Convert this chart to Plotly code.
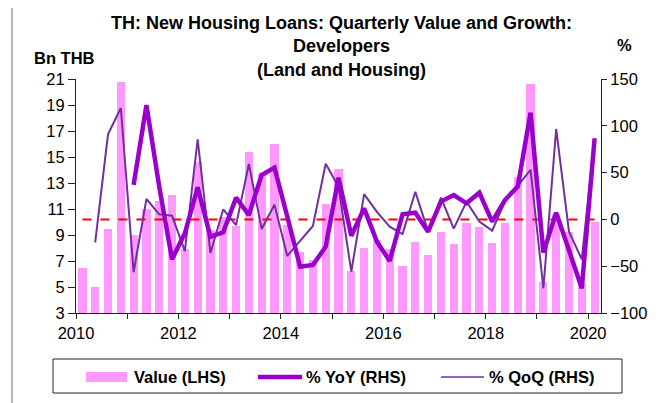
import plotly.graph_objects as go

# Quarterly data, 2010Q1 - 2020Q1
quarters = [f"{y}Q{q}" for y in range(2010, 2021) for q in range(1, 5)][:41]

value_bn = [6.5, 5.0, 9.5, 20.8, 9.0, 11.0, 11.6, 12.1, 7.9, 14.6, 9.4, 10.4,
            9.7, 15.4, 13.8, 16.0, 9.8, 7.7, 7.1, 11.4, 14.1, 6.2, 8.0, 8.6,
            7.9, 6.6, 8.5, 7.5, 9.2, 8.3, 9.9, 9.6, 8.4, 9.9, 13.5, 20.6,
            5.4, 10.6, 9.2, 5.3, 10.0]

yoy_pct = [None, None, None, None,
           36.8, 122, 35, -42.6, -14.9, 34.3, -18.5, -13.8, 23.2, 4.7, 47.4, 55.3,
           3, -50.5, -48.7, -29.2, 44.6, -17.4, 11.8, -23.8, -44.4, 5.4, 7.2, -13.1,
           19, 26, 17.2, 28.5, -2.4, 20.7, 35, 114, -35.5, 7.2, -33, -73.6, 86.6]

qoq_pct = [None,
           -24.5, 90.9, 119, -56.5, 21.8, 5.4, 4, -33.8, 85.5, -35.9, 10.8, -6,
           59.2, -10.3, 15.7, -39, -23, -7, 59.5, 35, -55.9, 27, 8, -7.8, -15.6,
           29.6, -13.1, 23.2, -9.9, 19, -2.4, -12, 19, 35.7, 52.8, -73.6, 96.6,
           -13.1, -42.6, 86.6]

year_ticks = list(range(2010, 2021))
year_labels = [str(y) if y % 2 == 0 else "" for y in year_ticks]

# quarter -> decimal year at the middle of the quarter
x_q = [int(q[:4]) + (int(q[-1]) - 0.5) / 4 for q in quarters]

FONT = "Liberation Sans, Arial, sans-serif"
PAGE_OFFSET = 8  # the html body margin pushes the figure 8px right/down
W, H = 667 - PAGE_OFFSET, 403 - PAGE_OFFSET
L, R, T, B = 76 - PAGE_OFFSET, 66, 79 - PAGE_OFFSET, 90
PW, PH = W - L - R, H - T - B


# helpers to place things by window pixel position
def px(x):
    return (x - 76) / PW


def py(y):
    return (313 - y) / PH


fig = go.Figure()
fig.add_trace(go.Bar(x=x_q, y=value_bn, width=0.16, marker=dict(color="#FF99FF", line=dict(width=0)),
                     name="Value (LHS)"))
fig.add_trace(go.Scatter(x=[x_q[0], x_q[-1]], y=[0, 0], yaxis="y2", mode="lines",
                         line=dict(color="#FF0000", width=2, dash="dash"), hoverinfo="skip"))
fig.add_trace(go.Scatter(x=x_q, y=qoq_pct, yaxis="y2", mode="lines",
                         line=dict(color="#7030A0", width=2), name="% QoQ (RHS)"))
fig.add_trace(go.Scatter(x=x_q, y=yoy_pct, yaxis="y2", mode="lines",
                         line=dict(color="#9900CC", width=4.5), name="% YoY (RHS)"))

shapes = [
    # outer chart frame
    dict(type="rect", xref="paper", yref="paper", x0=px(12), x1=px(660), y0=py(420), y1=py(7),
         line=dict(color="#A0A0A0", width=1.5)),
    # legend box
    dict(type="rect", xref="paper", yref="paper", x0=px(53), x1=px(622), y0=py(393), y1=py(359),
         line=dict(color="#222222", width=1)),
    dict(type="rect", xref="paper", yref="paper", x0=px(86), x1=px(127), y0=py(382), y1=py(372),
         fillcolor="#FF99FF", line=dict(width=0)),
    dict(type="line", xref="paper", yref="paper", x0=px(258), x1=px(302), y0=py(377), y1=py(377),
         line=dict(color="#9900CC", width=4.5)),
    dict(type="line", xref="paper", yref="paper", x0=px(441), x1=px(484), y0=py(377), y1=py(377),
         line=dict(color="#7030A0", width=1.5)),
]

annotations = [
    dict(text="<b>TH: New Housing Loans: Quarterly Value and Growth:<br>Developers<br>(Land and Housing)</b>",
         xref="paper", yref="paper", x=px(341), y=py(46), xanchor="center", yanchor="middle",
         showarrow=False, font=dict(family=FONT, size=18, color="black")),
    dict(text="<b>Bn THB</b>", xref="paper", yref="paper", x=px(64), y=py(58),
         xanchor="center", yanchor="middle", showarrow=False, font=dict(family=FONT, size=16.5, color="black")),
    dict(text="<b>%</b>", xref="paper", yref="paper", x=px(624), y=py(45),
         xanchor="center", yanchor="middle", showarrow=False, font=dict(family=FONT, size=16.5, color="black")),
]
for label, xl in [("Value (LHS)", 132), ("% YoY (RHS)", 304), ("% QoQ (RHS)", 487)]:
    annotations.append(dict(text=f"<b>{label}</b>", xref="paper", yref="paper", x=px(xl), y=py(377),
                            xanchor="left", yanchor="middle", showarrow=False,
                            font=dict(family=FONT, size=16.5, color="black")))

fig.update_layout(
    width=W, height=H,
    margin=dict(l=L, r=R, t=T, b=B),
    paper_bgcolor="white", plot_bgcolor="white",
    showlegend=False,
    bargap=0,
    font=dict(family=FONT, size=16.5, color="black"),
    xaxis=dict(range=[2010, 2020.25], tickvals=year_ticks, ticktext=year_labels,
               ticks="outside", ticklen=5, tickcolor="#222", showline=True, linecolor="#222",
               linewidth=1, showgrid=False, zeroline=False),
    yaxis=dict(range=[3, 21], dtick=2, tick0=3, ticks="outside", ticklen=7, tickcolor="#222",
               showline=True, linecolor="#222", linewidth=1, showgrid=False, zeroline=False),
    yaxis2=dict(range=[-100, 150], dtick=50, overlaying="y", side="right", ticks="outside",
                ticklen=5, tickcolor="#222", showline=True, linecolor="#222", linewidth=1,
                showgrid=False, zeroline=False),
    shapes=shapes,
    annotations=annotations,
)

fig.write_html("out.html")
